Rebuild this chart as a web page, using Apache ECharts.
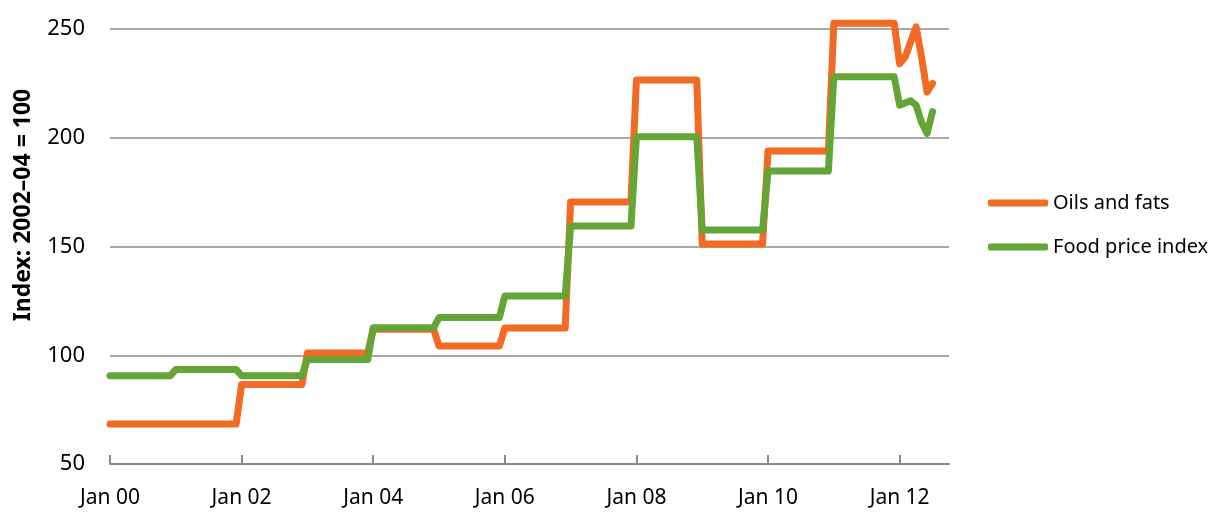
<!DOCTYPE html>
<html>
<head>
<meta charset="utf-8">
<script src="https://cdn.jsdelivr.net/npm/echarts@6/dist/echarts.min.js"></script>
<style>
html,body{margin:0;padding:0;background:#fff;}
#chart{width:1214px;height:512px;}
</style>
</head>
<body>
<div id="chart"></div>
<script>
// Month names and two-digit years for the category axis (Jan 00 .. Oct 12)
const monthNames = ['Jan','Feb','Mar','Apr','May','Jun','Jul','Aug','Sep','Oct','Nov','Dec'];
const yearLabels = ['00','01','02','03','04','05','06','07','08','09','10','11','12'];
const lastMonthIndex2012 = 9; // axis runs to Oct 12

// Annual index values 2000–2011 (held for every month of the year)
const oilsAnnual = [68.4, 68.4, 86.6, 101.0, 112.0, 104.2, 112.5, 170.5, 226.6, 151.1, 193.9, 252.6];
const foodAnnual = [90.6, 93.5, 90.6, 98.1, 112.6, 117.3, 127.2, 159.4, 200.5, 157.6, 184.7, 228.1];

// Monthly values Jan–Jul 2012
const oils2012 = [234, 237, 244, 251, 237, 221, 225];
const food2012 = [215, 216, 217, 215, 207, 202, 212];

// Y-axis ticks
const yMin = 50, yMax = 250, yStep = 50;

// Build categories and monthly series tables
const categories = [];
yearLabels.forEach((y, yi) => {
  monthNames.forEach((m, mi) => {
    if (yi < yearLabels.length - 1 || mi <= lastMonthIndex2012) categories.push(m + ' ' + y);
  });
});
function buildSeries(annual, monthly) {
  const out = [];
  annual.forEach(v => { for (let i = 0; i < 12; i++) out.push(v); });
  monthly.forEach(v => out.push(v));
  while (out.length < categories.length) out.push(null);
  return out;
}
const oilsData = buildSeries(oilsAnnual, oils2012);
const foodData = buildSeries(foodAnnual, food2012);

const chart = echarts.init(document.getElementById('chart'), null, {renderer: 'canvas'});
const font = '"Noto Sans", "Open Sans", sans-serif';
chart.setOption({
  animation: false,
  backgroundColor: '#ffffff',
  grid: {left: 110, right: 265, top: 29, bottom: 48, containLabel: false},
  legend: {
    orient: 'vertical',
    left: 983,
    top: 188,
    itemWidth: 60,
    itemHeight: 7,
    itemGap: 24,
    icon: 'roundRect',
    textStyle: {fontFamily: font, fontSize: 20, color: '#000', padding: [0, 0, 0, 0]},
    data: ['Oils and fats', 'Food price index']
  },
  graphic: [{
    type: 'text',
    x: 23,
    y: 205,
    rotation: Math.PI / 2,
    style: {
      text: 'Index: 2002–04 = 100',
      font: 'bold 23px "Noto Sans", sans-serif',
      fill: '#000',
      align: 'center',
      verticalAlign: 'middle'
    }
  }],
  xAxis: {
    type: 'category',
    data: categories,
    boundaryGap: false,
    axisLine: {lineStyle: {color: '#8a8a8a', width: 2}},
    axisTick: {inside: true, length: 9, interval: 23, lineStyle: {color: '#8a8a8a', width: 2}},
    axisLabel: {interval: 23, margin: 24, fontFamily: font, fontSize: 21, color: '#000'},
    splitLine: {show: false}
  },
  yAxis: {
    type: 'value',
    min: yMin,
    max: yMax,
    interval: yStep,
    axisLine: {show: false},
    axisTick: {show: false},
    axisLabel: {margin: 25, fontFamily: font, fontSize: 22, color: '#000'},
    splitLine: {lineStyle: {color: '#8c8c8c', width: 1.5}}
  },
  series: [
    {
      name: 'Oils and fats',
      type: 'line',
      data: oilsData,
      clip: false,
      showSymbol: false,
      symbol: 'none',
      color: '#F26A24',
      lineStyle: {width: 7, cap: 'round', join: 'round', color: '#F26A24'}
    },
    {
      name: 'Food price index',
      type: 'line',
      data: foodData,
      clip: false,
      showSymbol: false,
      symbol: 'none',
      color: '#63A536',
      lineStyle: {width: 7, cap: 'round', join: 'round', color: '#63A536'}
    }
  ]
});
</script>
</body>
</html>
